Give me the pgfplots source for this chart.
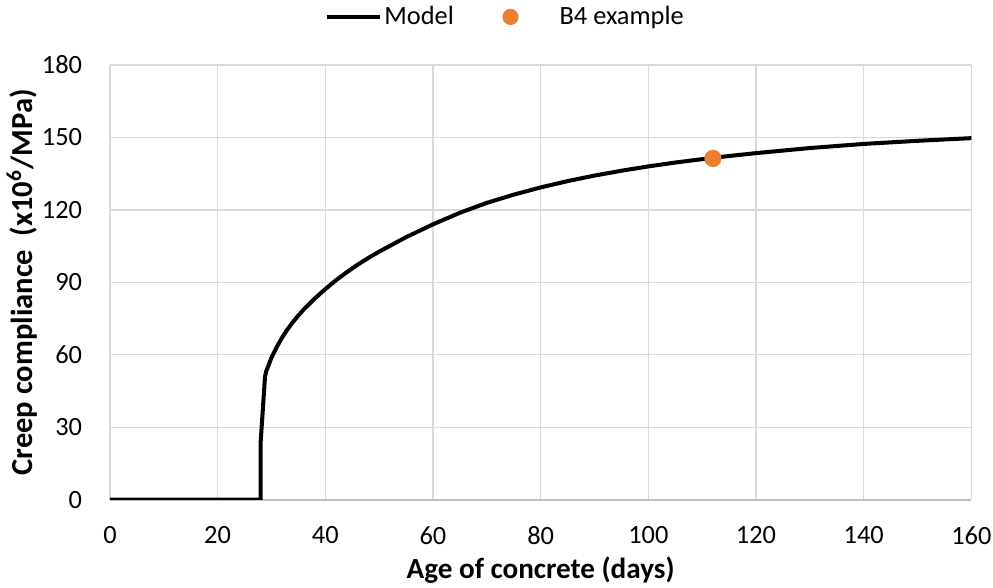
\documentclass[border=0pt]{standalone}
\usepackage{fontspec}
\setmainfont{Carlito}
\usepackage{pgfplots}
\pgfplotsset{compat=1.18}
\definecolor{gridgray}{RGB}{217,217,217}
\definecolor{axgray}{RGB}{191,191,191}
\definecolor{dotorange}{RGB}{237,125,49}

\begin{document}
\begin{tikzpicture}
% 1 px of the reference = 0.36pt
\useasboundingbox (-39.6pt,-31.68pt) rectangle (318.1pt,180pt);
\begin{axis}[
    at={(0,0)}, anchor=south west,
    scale only axis,
    width=310.3pt, height=156.6pt,
    xmin=0, xmax=160, ymin=0, ymax=180,
    xtick distance=20, ytick distance=30,
    grid=major,
    grid style={gridgray, line width=0.5pt},
    axis x line*=bottom,
    axis y line*=left,
    x axis line style={axgray, line width=0.6pt, -},
    y axis line style={draw=none},
    major tick length=0pt,
    tick label style={font=\fontsize{9.5}{11}\selectfont},
    /pgf/number format/assume math mode=true,
    xticklabel style={yshift=-6.2pt},
    yticklabel style={xshift=-6.5pt},
    xlabel={\textbf{Age of concrete (days)}},
    ylabel={\textbf{Creep compliance\ \ (x10\textsuperscript{6}/MPa)}},
    xlabel style={font=\fontsize{10.5}{12}\selectfont,
        at={(axis description cs:0.5,0)}, anchor=center, yshift=-25.2pt},
    ylabel style={font=\fontsize{11}{12}\selectfont,
        at={(axis description cs:0,0.5)}, anchor=center, yshift=31.8pt},
    legend columns=2,
    legend style={draw=none, fill=none, font=\fontsize{9.5}{11}\selectfont,
        at={(axis description cs:0.461,1)}, anchor=center, yshift=17.3pt,
        /tikz/every odd column/.append style={column sep=-1pt},
        /tikz/every even column/.append style={column sep=15.5pt}},
]
\addplot[black, line width=1.45pt, line join=round,
    legend image code/.code={\draw[black, line width=1.45pt] (0pt,0pt) -- (19pt,0pt);}]
    coordinates {
    (0,0)(28,0)(28,24)(28.8,50.8)(29,53)(30,58.8)(31,63.3)(32,67.2)(33,70.6)
    (34,73.6)(35,76.3)(36,78.8)(38,83.2)(40,87.2)(42,90.9)(44,94.2)(46,97.3)
    (48,100.1)(50,102.7)(55,108.7)(60,114.0)(65,118.8)(70,122.9)(75,126.3)
    (80,129.3)(85,131.9)(90,134.2)(95,136.2)(100,138.0)(105,139.6)(110,141.0)
    (115,142.3)(120,143.5)(130,145.6)(140,147.3)(150,148.6)(160,149.7)
    };
\addlegendentry{Model}
\addplot[only marks, mark=*, mark size=2.9pt, mark options={draw=dotorange, fill=dotorange},
    legend image code/.code={\fill[dotorange] (0pt,0pt) circle (2.7pt); \path (16.5pt,0pt);}]
    coordinates {(112,141.3)};
\addlegendentry{B4 example}
\end{axis}
\end{tikzpicture}
\end{document}
